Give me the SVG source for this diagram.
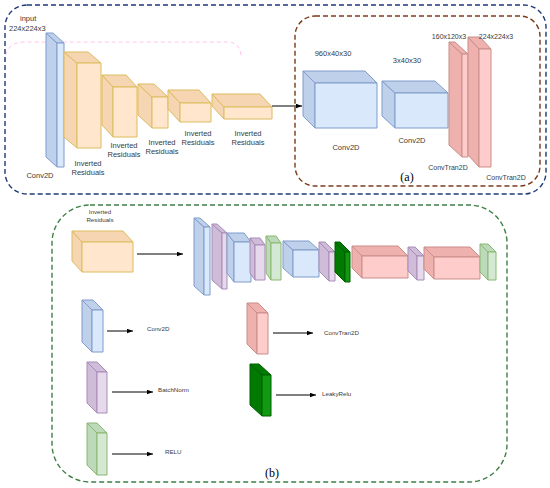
<svg xmlns="http://www.w3.org/2000/svg" width="550" height="488" viewBox="0 0 550 488">
<defs>
<marker id="ah" viewBox="0 0 8 6" refX="8" refY="3" markerWidth="6" markerHeight="5" orient="auto" markerUnits="userSpaceOnUse">
<path d="M0,0 L8,3 L0,6 z" fill="#000"/>
</marker>
</defs>
<style>
.cube polygon,.cube rect{stroke-width:1;stroke-linejoin:round}
.blue .f{fill:#dae8fc}.blue .s,.blue .t{fill:#bfd0ea}.blue polygon,.blue rect{stroke:#7f9ccb}
.orange .f{fill:#ffe6cc}.orange .s,.orange .t{fill:#f6d5b3}.orange polygon,.orange rect{stroke:#dcbc5e}
.pink .f{fill:#ffcccc}.pink .s,.pink .t{fill:#efb1ae}.pink polygon,.pink rect{stroke:#c98e8a}
.purple .f{fill:#e6d9ec}.purple .s,.purple .t{fill:#cfbcd8}.purple polygon,.purple rect{stroke:#a98bb8}
.green .f{fill:#d5e8d4}.green .s,.green .t{fill:#bcd9ba}.green polygon,.green rect{stroke:#8ab870}
.dkgreen .f{fill:#119911}.dkgreen .s,.dkgreen .t{fill:#007a00}.dkgreen polygon,.dkgreen rect{stroke:#005e00}
text.lbl{font-family:"Liberation Sans",Arial,sans-serif;fill:#3a3a3a;font-size:7.5px;stroke:none}
text.c{text-anchor:middle}
text.sm{font-size:6.2px}
text.s7{font-size:7px}
.cap{font-family:"Liberation Serif","Times New Roman",serif;font-size:12px;fill:#000;text-anchor:middle}
.frame{fill:none;stroke-width:1.4;stroke-dasharray:5,3}
.conn line{stroke:#000;stroke-width:1;marker-end:url(#ah)}
</style>
<rect width="550" height="488" fill="#fff"/>

<g id="frames">
<path d="M5,62 Q5,42 25,42 L228,42 Q240,42 241,56" fill="none" stroke="#ff77dd" stroke-width="1" stroke-dasharray="4,3" opacity="0.45"/>
<rect class="frame" x="5" y="5" width="541" height="189" rx="22" stroke="#1f3a78"/>
<rect class="frame" x="295" y="16" width="245" height="170" rx="20" stroke="#7a3a1a"/>
<rect class="frame" x="52" y="205" width="455" height="277" rx="38" stroke="#3f7f45"/>
<text class="cap" x="407" y="181">(a)</text>
<text class="cap" x="272" y="477">(b)</text>
</g>

<g id="conv-in" class="cube blue">
<polygon class="s" points="46,33 57,43 57,167 46,157"/>
<polygon class="t" points="46,33 53,33 64,43 57,43"/>
<rect class="f" x="57" y="43" width="7" height="124"/>
<text class="lbl" x="20" y="21">input</text>
<text class="lbl" x="9" y="31">224x224x3</text>
<text class="lbl c" x="40" y="178">Conv2D</text>
</g>
<g id="ir1" class="cube orange">
<polygon class="s" points="64,52 77,63 77,148 64,137"/>
<polygon class="t" points="64,52 88,52 101,63 77,63"/>
<rect class="f" x="77" y="63" width="24" height="85"/>
<text class="lbl c" x="88" y="166">Inverted</text>
<text class="lbl c" x="88" y="175">Residuals</text>
</g>
<g id="ir2" class="cube orange">
<polygon class="s" points="102,75 113,87 113,137 102,125"/>
<polygon class="t" points="102,75 126,75 137,87 113,87"/>
<rect class="f" x="113" y="87" width="24" height="50"/>
<text class="lbl c" x="124" y="148">Inverted</text>
<text class="lbl c" x="124" y="157">Residuals</text>
</g>
<g id="ir3" class="cube orange">
<polygon class="s" points="138,84 152,97 152,128 138,115"/>
<polygon class="t" points="138,84 154,84 168,97 152,97"/>
<rect class="f" x="152" y="97" width="16" height="31"/>
<text class="lbl c" x="162" y="145">Inverted</text>
<text class="lbl c" x="162" y="154">Residuals</text>
</g>
<g id="ir4" class="cube orange">
<polygon class="s" points="168,90 180,103 180,122 168,109"/>
<polygon class="t" points="168,90 199,90 211,103 180,103"/>
<rect class="f" x="180" y="103" width="31" height="19"/>
<text class="lbl c" x="198" y="136">Inverted</text>
<text class="lbl c" x="198" y="145">Residuals</text>
</g>
<g id="ir5" class="cube orange">
<polygon class="s" points="212,94 224,107 224,119 212,106"/>
<polygon class="t" points="212,94 260,94 272,107 224,107"/>
<rect class="f" x="224" y="107" width="48" height="12"/>
<text class="lbl c" x="248" y="136">Inverted</text>
<text class="lbl c" x="248" y="145">Residuals</text>
</g>
<g id="conv-a" class="cube blue">
<polygon class="s" points="303,71 315,83 315,128 303,116"/>
<polygon class="t" points="303,71 365,71 377,83 315,83"/>
<rect class="f" x="315" y="83" width="62" height="45"/>
<text class="lbl c" x="333" y="56">960x40x30</text>
<text class="lbl c" x="346" y="150">Conv2D</text>
</g>
<g id="conv-b" class="cube blue">
<polygon class="s" points="382,81 395,93 395,128 382,116"/>
<polygon class="t" points="382,81 435,81 448,93 395,93"/>
<rect class="f" x="395" y="93" width="53" height="35"/>
<text class="lbl c" x="407" y="63">3x40x30</text>
<text class="lbl c" x="412" y="143">Conv2D</text>
</g>
<g id="convtran-1" class="cube pink">
<polygon class="s" points="449,42 462,54 462,157 449,145"/>
<polygon class="t" points="449,42 455,42 468,54 462,54"/>
<rect class="f" x="462" y="54" width="6" height="103"/>
<text class="lbl c s7" x="449" y="39">160x120x3</text>
<text class="lbl c s7" x="448" y="170">ConvTran2D</text>
</g>
<g id="convtran-2" class="cube pink">
<polygon class="s" points="468,37 479,49 479,167 468,155"/>
<polygon class="t" points="468,37 480,37 491,49 479,49"/>
<rect class="f" x="479" y="49" width="12" height="118"/>
<text class="lbl c s7" x="496" y="39">224x224x3</text>
<text class="lbl c s7" x="506" y="180">ConvTran2D</text>
</g>

<g id="ir-b" class="cube orange">
<polygon class="s" points="72,231 82,242 82,272 72,261"/>
<polygon class="t" points="72,231 123,231 133,242 82,242"/>
<rect class="f" x="82" y="242" width="51" height="30"/>
<text class="lbl c sm" x="100" y="214">Inverted</text>
<text class="lbl c sm" x="100" y="222">Residuals</text>
</g>
<g id="b1" class="cube blue">
<polygon class="s" points="194,218 204,227 204,295 194,286"/>
<polygon class="t" points="194,218 200,218 210,227 204,227"/>
<rect class="f" x="204" y="227" width="6" height="68"/>
</g>
<g id="b2" class="cube purple">
<polygon class="s" points="212,224 222,233 222,289 212,280"/>
<polygon class="t" points="212,224 217,224 227,233 222,233"/>
<rect class="f" x="222" y="233" width="5" height="56"/>
</g>
<g id="b3" class="cube blue">
<polygon class="s" points="227,233 234,242 234,282 227,273"/>
<polygon class="t" points="227,233 244,233 251,242 234,242"/>
<rect class="f" x="234" y="242" width="17" height="40"/>
</g>
<g id="b4" class="cube purple">
<polygon class="s" points="250,238 255,245 255,280 250,273"/>
<polygon class="t" points="250,238 260,238 265,245 255,245"/>
<rect class="f" x="255" y="245" width="10" height="35"/>
</g>
<g id="b5" class="cube green">
<polygon class="s" points="266,236 271,243 271,280 266,273"/>
<polygon class="t" points="266,236 276,236 281,243 271,243"/>
<rect class="f" x="271" y="243" width="10" height="37"/>
</g>
<g id="b6" class="cube blue">
<polygon class="s" points="283,241 293,250 293,277 283,268"/>
<polygon class="t" points="283,241 309,241 319,250 293,250"/>
<rect class="f" x="293" y="250" width="26" height="27"/>
</g>
<g id="b7" class="cube purple">
<polygon class="s" points="319,242 329,252 329,281 319,271"/>
<polygon class="t" points="319,242 325,242 335,252 329,252"/>
<rect class="f" x="329" y="252" width="6" height="29"/>
</g>
<g id="b8" class="cube dkgreen">
<polygon class="s" points="335,242 345,252 345,282 335,272"/>
<polygon class="t" points="335,242 340,242 350,252 345,252"/>
<rect class="f" x="345" y="252" width="5" height="30"/>
</g>
<g id="b9" class="cube pink">
<polygon class="s" points="352,246 362,256 362,278 352,268"/>
<polygon class="t" points="352,246 398,246 408,256 362,256"/>
<rect class="f" x="362" y="256" width="46" height="22"/>
</g>
<g id="b10" class="cube purple">
<polygon class="s" points="408,247 417,256 417,280 408,271"/>
<polygon class="t" points="408,247 415,247 424,256 417,256"/>
<rect class="f" x="417" y="256" width="7" height="24"/>
</g>
<g id="b11" class="cube pink">
<polygon class="s" points="424,247 434,257 434,279 424,269"/>
<polygon class="t" points="424,247 470,247 480,257 434,257"/>
<rect class="f" x="434" y="257" width="46" height="22"/>
</g>
<g id="b12" class="cube green">
<polygon class="s" points="480,244 488,252 488,280 480,272"/>
<polygon class="t" points="480,244 488,244 496,252 488,252"/>
<rect class="f" x="488" y="252" width="8" height="28"/>
</g>

<g id="leg-conv2d" class="cube blue">
<polygon class="s" points="82,300 92,310 92,352 82,342"/>
<polygon class="t" points="82,300 93,300 103,310 92,310"/>
<rect class="f" x="92" y="310" width="11" height="42"/>
<text class="lbl sm" x="147" y="331">Conv2D</text>
</g>
<g id="leg-batchnorm" class="cube purple">
<polygon class="s" points="87,362 97,372 97,413 87,403"/>
<polygon class="t" points="87,362 97,362 107,372 97,372"/>
<rect class="f" x="97" y="372" width="10" height="41"/>
<text class="lbl sm" x="158" y="392">BatchNorm</text>
</g>
<g id="leg-relu" class="cube green">
<polygon class="s" points="87,423 97,433 97,475 87,465"/>
<polygon class="t" points="87,423 97,423 107,433 97,433"/>
<rect class="f" x="97" y="433" width="10" height="42"/>
<text class="lbl sm" x="165" y="454">RELU</text>
</g>
<g id="leg-convtran2d" class="cube pink">
<polygon class="s" points="247,303 257,313 257,354 247,344"/>
<polygon class="t" points="247,303 258,303 268,313 257,313"/>
<rect class="f" x="257" y="313" width="11" height="41"/>
<text class="lbl sm" x="324" y="335">ConvTran2D</text>
</g>
<g id="leg-leakyrelu" class="cube dkgreen">
<polygon class="s" points="250,364 262,375 262,416 250,405"/>
<polygon class="t" points="250,364 259,364 271,375 262,375"/>
<rect class="f" x="262" y="375" width="9" height="41"/>
<text class="lbl sm" x="322" y="396">LeakyRelu</text>
</g>

<g id="connectors" class="conn">
<line x1="272" y1="106" x2="302" y2="106"/>
<line x1="137" y1="254" x2="183" y2="254"/>
<line x1="107" y1="331" x2="133" y2="331"/>
<line x1="112" y1="392" x2="153" y2="392"/>
<line x1="112" y1="454" x2="153" y2="454"/>
<line x1="273" y1="333" x2="313" y2="333"/>
<line x1="276" y1="395" x2="316" y2="395"/>
</g>
</svg>
